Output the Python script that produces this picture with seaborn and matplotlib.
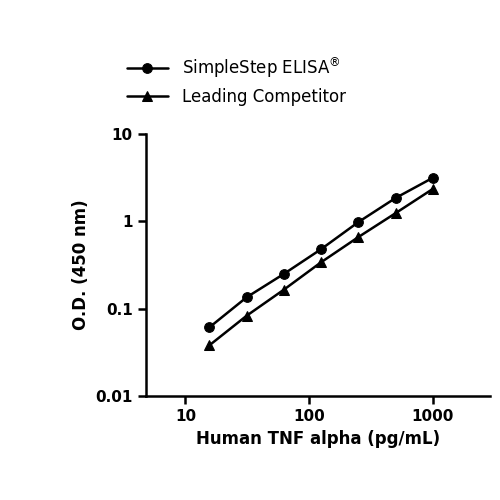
import matplotlib
matplotlib.use('Agg')
import matplotlib.pyplot as plt
import seaborn as sns
import pandas as pd
from matplotlib.ticker import FixedFormatter, FixedLocator, NullLocator

conc = [15.6, 31.25, 62.5, 125, 250, 500, 1000]
simplestep = [0.061, 0.135, 0.25, 0.48, 0.98, 1.85, 3.15]
competitor = [0.038, 0.083, 0.165, 0.34, 0.66, 1.24, 2.35]

df = pd.DataFrame({
    'conc': conc * 2,
    'od': simplestep + competitor,
    'kit': ['SimpleStep ELISA$^{\\circledR}$'] * 7 + ['Leading Competitor'] * 7,
})

sns.set_style('ticks', {'text.color': 'black', 'axes.labelcolor': 'black',
                        'xtick.color': 'black', 'ytick.color': 'black',
                        'axes.edgecolor': 'black'})
plt.rcParams['font.family'] = ['DejaVu Sans']

fig = plt.figure(figsize=(5, 5), dpi=100)
ax = fig.add_axes([0.292, 0.208, 0.688, 0.524])

sns.lineplot(data=df, x='conc', y='od', hue='kit', style='kit',
             markers=['o', '^'], dashes=False, palette=['black', 'black'],
             markersize=7, markeredgecolor='black', linewidth=1.8, ax=ax)

ax.set_xscale('log')
ax.set_yscale('log')
ax.set_xlim(4.8, 2900)
ax.set_ylim(0.01, 10)
ax.yaxis.set_major_locator(FixedLocator([0.01, 0.1, 1, 10]))
ax.yaxis.set_major_formatter(FixedFormatter(['0.01', '0.1', '1', '10']))
ax.xaxis.set_major_locator(FixedLocator([10, 100, 1000]))
ax.xaxis.set_major_formatter(FixedFormatter(['10', '100', '1000']))
ax.xaxis.set_minor_locator(NullLocator())
ax.yaxis.set_minor_locator(NullLocator())

for s in ['top', 'right']:
    ax.spines[s].set_visible(False)
for s in ['left', 'bottom']:
    ax.spines[s].set_linewidth(1.8)
ax.tick_params(which='major', width=1.8, length=6, labelsize=11)
for lab in ax.get_xticklabels() + ax.get_yticklabels():
    lab.set_fontweight('bold')

ax.set_xlabel('Human TNF alpha (pg/mL)', fontsize=12, fontweight='bold')
ax.set_ylabel('O.D. (450 nm)', fontsize=12, fontweight='bold')

leg = ax.legend(loc='lower left', bbox_to_anchor=(-0.1, 1.05), frameon=False,
                fontsize=12, handlelength=2.5, title=None)
for h in leg.legend_handles:
    h.set_markeredgecolor('black')

fig.savefig('out.png', dpi=100)
